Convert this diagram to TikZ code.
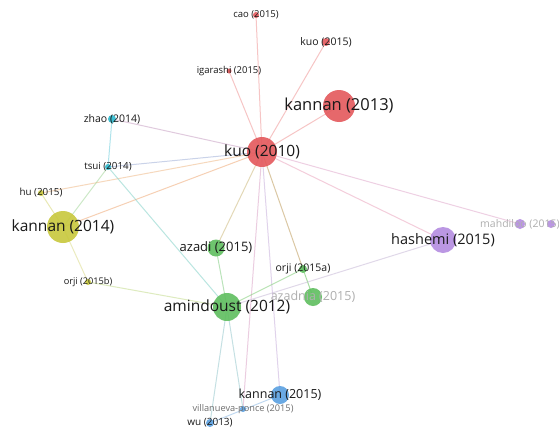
\documentclass[tikz,border=0pt]{standalone}
\usepackage{fontspec}
\setmainfont{Open Sans}
\pgfdeclarelayer{bg}
\pgfsetlayers{bg,main}
\definecolor{cred}{RGB}{228,88,92}
\definecolor{cyel}{RGB}{200,200,60}
\definecolor{cgrn}{RGB}{95,190,95}
\definecolor{ccya}{RGB}{45,185,205}
\definecolor{cblu}{RGB}{90,160,225}
\definecolor{cpur}{RGB}{180,140,225}
\definecolor{txt}{RGB}{25,25,25}
\definecolor{txtlight}{RGB}{175,175,175}
\definecolor{txtmid}{RGB}{110,110,110}
\tikzset{
  dot/.style={circle, inner sep=0pt, minimum size=#1, fill opacity=0.9},
  edge/.style={line width=1pt, draw opacity=0.55},
  lbl/.style={inner sep=0pt, text=txt, font=\fontsize{#1}{#1}\selectfont},
}
\begin{document}
\begin{tikzpicture}[x=1pt,y=-1pt]
\useasboundingbox (0,0) rectangle (559,431);
% nodes
\node[dot=30pt, fill=cred] (kuoA) at (262,152) {};
\node[dot=32pt, fill=cred] (kanC) at (339,106) {};
\node[dot=6pt, fill=cred] (cao) at (256,15) {};
\node[dot=8pt, fill=cred] (kuoB) at (326,42) {};
\node[dot=5pt, fill=cred] (igar) at (229,71) {};
\node[dot=8pt, fill=ccya] (zhao) at (112,119) {};
\node[dot=6pt, fill=ccya] (tsui) at (108,167) {};
\node[dot=6pt, fill=cyel] (hu) at (41,193) {};
\node[dot=32pt, fill=cyel] (kanD) at (63,227) {};
\node[dot=17pt, fill=cgrn] (azadi) at (216,248) {};
\node[dot=6pt, fill=cyel] (orjiB) at (88,282) {};
\node[dot=28pt, fill=cgrn] (amin) at (227,307) {};
\node[dot=8pt, fill=cgrn] (orjiA) at (303,269) {};
\node[dot=18pt, fill=cgrn] (azadn) at (313,297) {};
\node[dot=26pt, fill=cpur] (hash) at (443,240) {};
\node[dot=10pt, fill=cpur] (mahd) at (520,224) {};
\node[dot=8pt, fill=cpur] (mahdB) at (551,224) {};
\node[dot=18pt, fill=cblu] (kanE) at (280,395) {};
\node[dot=6pt, fill=cblu] (vill) at (243,409) {};
\node[dot=8pt, fill=cblu] (wu) at (210,423) {};
% edges
\begin{pgfonlayer}{bg}
\fill[white] (0,0) rectangle (559,431);
\draw[edge, draw={rgb,255:red,240;green,150;blue,150}] (kuoA.center) -- (cao.center);
\draw[edge, draw={rgb,255:red,240;green,150;blue,150}] (kuoA.center) -- (kuoB.center);
\draw[edge, draw={rgb,255:red,240;green,150;blue,150}] (kuoA.center) -- (igar.center);
\draw[edge, draw={rgb,255:red,240;green,150;blue,150}] (kuoA.center) -- (kanC.center);
\draw[edge, draw={rgb,255:red,200;green,160;blue,195}] (kuoA.center) -- (zhao.center);
\draw[edge, draw={rgb,255:red,160;green,175;blue,215}] (kuoA.center) -- (tsui.center);
\draw[edge, draw={rgb,255:red,240;green,185;blue,135}] (kuoA.center) -- (hu.center);
\draw[edge, draw={rgb,255:red,240;green,170;blue,120}] (kuoA.center) -- (kanD.center);
\draw[edge, draw={rgb,255:red,205;green,185;blue,125}] (kuoA.center) -- (azadi.center);
\draw[edge, draw={rgb,255:red,220;green,165;blue,200}] (kuoA.center) -- (vill.center);
\draw[edge, draw={rgb,255:red,200;green,175;blue,220}] (kuoA.center) -- (kanE.center);
\draw[edge, draw={rgb,255:red,190;green,155;blue,90}] (kuoA.center) -- (orjiA.center);
\draw[edge, draw={rgb,255:red,100;green,195;blue,90}] (orjiA.center) -- (azadn.center);
\draw[edge, draw={rgb,255:red,235;green,165;blue,190}] (kuoA.center) -- (hash.center);
\draw[edge, draw={rgb,255:red,225;green,170;blue,205}] (kuoA.center) -- (mahd.center);
\draw[edge, draw={rgb,255:red,110;green,205;blue,220}] (zhao.center) -- (tsui.center);
\draw[edge, draw={rgb,255:red,165;green,215;blue,155}] (tsui.center) -- (kanD.center);
\draw[edge, draw={rgb,255:red,130;green,210;blue,200}] (tsui.center) -- (amin.center);
\draw[edge, draw={rgb,255:red,215;green,215;blue,120}] (hu.center) -- (kanD.center);
\draw[edge, draw={rgb,255:red,220;green,220;blue,140}] (kanD.center) -- (orjiB.center);
\draw[edge, draw={rgb,255:red,195;green,220;blue,140}] (orjiB.center) -- (amin.center);
\draw[edge, draw={rgb,255:red,130;green,205;blue,130}] (azadi.center) -- (amin.center);
\draw[edge, draw={rgb,255:red,130;green,205;blue,120}] (amin.center) -- (orjiA.center);
\draw[edge, draw={rgb,255:red,200;green,185;blue,215}] (amin.center) -- (hash.center);
\draw[edge, draw={rgb,255:red,150;green,200;blue,205}] (amin.center) -- (wu.center);
\draw[edge, draw={rgb,255:red,150;green,200;blue,205}] (amin.center) -- (vill.center);
\draw[edge, draw={rgb,255:red,140;green,185;blue,230}] (kanE.center) -- (wu.center);
\end{pgfonlayer}
% labels
\node[lbl=15.5] (kuoA-l) at (kuoA) {kuo (2010)};
\node[lbl=16.5] (kanC-l) at (kanC) {kannan (2013)};
\node[lbl=9.5] (cao-l) at (cao) {cao (2015)};
\node[lbl=10.5] (kuoB-l) at (kuoB) {kuo (2015)};
\node[lbl=9.5] (igar-l) at (igar) {igarashi (2015)};
\node[lbl=10.5] (zhao-l) at (zhao) {zhao (2014)};
\node[lbl=9.8] (tsui-l) at (tsui) {tsui (2014)};
\node[lbl=9.8] (hu-l) at (hu) {hu (2015)};
\node[lbl=15.5] (kanD-l) at (kanD) {kannan (2014)};
\node[lbl=13] (azadi-l) at (azadi) {azadi (2015)};
\node[lbl=9.2] (orjiB-l) at (orjiB) {orji (2015b)};
\node[lbl=15.5] (amin-l) at (amin) {amindoust (2012)};
\node[lbl=10.5] (orjiA-l) at (orjiA) {orji (2015a)};
\node[lbl=12.5, text=txtlight] (azadn-l) at (azadn) {azadnia (2015)};
\node[lbl=14.5] (hash-l) at (hash) {hashemi (2015)};
\node[lbl=10.5, text=txtlight, anchor=west] (mahd-l) at (480,224) {mahdiloo (2015)};
\node[lbl=12.5] (kanE-l) at (kanE) {kannan (2015)};
\node[lbl=9.2, text=txtmid] (vill-l) at (vill) {villanueva-ponce (2015)};
\node[lbl=10] (wu-l) at (wu) {wu (2013)};
\end{tikzpicture}
\end{document}
